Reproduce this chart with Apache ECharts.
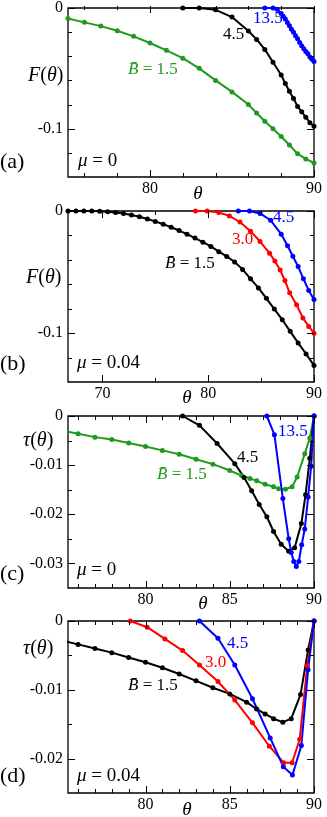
<!DOCTYPE html>
<html><head><meta charset="utf-8">
<script src="https://cdn.jsdelivr.net/npm/echarts@6/dist/echarts.min.js"></script>
<style>html,body{margin:0;padding:0;background:#fff}#c{width:327px;height:817px}</style>
</head><body><div id="c"></div><script>
// ---------- DATA ----------
// Panel (a) mu = 0, F(theta)
const thetaA_B15 = [75,76,77,78,79,80,81,82,83,84,85,86,86.5,87,87.5,88,88.5,89,89.5,90];
const FA_B15 = [-0.0087,-0.0119,-0.0150,-0.0189,-0.0235,-0.0290,-0.0351,-0.0416,-0.0500,-0.0600,-0.0695,-0.0800,-0.0870,-0.0938,-0.1000,-0.1065,-0.1135,-0.1208,-0.1250,-0.1284];
const thetaA_B45 = [82,83,84,85,86,86.5,87,87.5,88,88.25,88.5,88.75,89,89.25,89.5,89.75,90];
const FA_B45 = [0,0,-0.0015,-0.0075,-0.0190,-0.0260,-0.0343,-0.0450,-0.0555,-0.0625,-0.0690,-0.0750,-0.0815,-0.0860,-0.0905,-0.0950,-0.0979];
const thetaA_B135 = [87,87.5,87.75,88,88.125,88.25,88.375,88.5,88.625,88.75,88.875,89,89.125,89.25,89.375,89.5,89.625,89.75,89.875,90];
const FA_B135 = [0,0,-0.0010,-0.0045,-0.0068,-0.0092,-0.0120,-0.0148,-0.0176,-0.0200,-0.0230,-0.0255,-0.0285,-0.0312,-0.0338,-0.0360,-0.0380,-0.0405,-0.0425,-0.0443];
// Panel (b) mu = 0.04, F(theta)
const thetaB_B15 = [66.75,67.5,68.25,69,69.75,70.5,71.25,72,72.75,73.5,74.25,75,75.75,76.5,77.25,78,78.75,79.5,80.25,81,81.75,82.5,83.25,84,84.75,85.5,86.25,87,87.75,88.5,89.25,90];
const FB_B15 = [0,0,0,-0.0001,-0.0003,-0.0006,-0.0012,-0.0021,-0.0033,-0.0047,-0.0065,-0.0085,-0.0108,-0.0133,-0.0160,-0.0190,-0.0222,-0.0255,-0.0290,-0.0333,-0.0372,-0.0418,-0.0478,-0.0555,-0.0630,-0.0715,-0.0803,-0.0890,-0.0985,-0.1080,-0.1170,-0.1265];
const thetaB_B30 = [78.8,79.9,81,82,83,84,84.9,85.8,86.3,86.8,87.25,87.7,88.35,88.95,89.5,90];
const FB_B30 = [0,0,-0.0012,-0.0040,-0.0090,-0.0165,-0.0250,-0.0345,-0.0410,-0.0483,-0.0570,-0.0670,-0.0768,-0.0875,-0.0945,-0.1000];
const thetaB_B45 = [82.85,83.9,84.9,85.9,86.9,87.5,88,88.5,89,89.5,90];
const FB_B45 = [0,0,-0.0020,-0.0076,-0.0190,-0.0285,-0.0370,-0.0455,-0.0555,-0.0650,-0.0725];
// Panel (c) mu = 0, tau(theta)
const thetaC_B15 = [75,76,77,78,79,80,81,82,83,84,85,85.7,86.2,86.6,87.1,87.6,87.9,88.3,88.7,89.0,89.45,89.75,90];
const tauC_B15 = [-0.0029,-0.0036,-0.0043,-0.0048,-0.0055,-0.0062,-0.0070,-0.0078,-0.0088,-0.0098,-0.0111,-0.0121,-0.0127,-0.0132,-0.0139,-0.0144,-0.0148,-0.0149,-0.0144,-0.0124,-0.0077,-0.0045,0];
const thetaC_B45 = [82.2,83.2,84.25,85.3,85.85,86.3,86.75,87.2,87.6,88.05,88.5,88.85,89.25,89.5,89.75,90];
const tauC_B45 = [0,-0.0019,-0.0056,-0.0097,-0.0125,-0.0152,-0.0180,-0.0205,-0.0235,-0.0261,-0.0275,-0.0268,-0.0219,-0.0160,-0.0086,0];
const thetaC_B135 = [87.2,87.65,88.15,88.5,88.65,88.8,88.95,89.1,89.27,89.45,89.65,89.83,90];
const tauC_B135 = [0,-0.0038,-0.0168,-0.0250,-0.0278,-0.0296,-0.0306,-0.0296,-0.0262,-0.0230,-0.0165,-0.0102,0];
// Panel (d) mu = 0.04, tau(theta)
const thetaD_B15 = [75,76,77,78,79,80,81,82,83,84,85,86,86.6,87.1,87.6,88.15,88.65,89.2,89.65,90];
const tauD_B15 = [-0.0028,-0.0034,-0.0040,-0.0046,-0.0053,-0.0060,-0.0068,-0.0077,-0.0087,-0.0097,-0.0106,-0.0118,-0.0128,-0.0135,-0.0142,-0.0147,-0.0142,-0.0107,-0.0042,0];
const thetaD_B30 = [79.1,80.1,81.15,82.2,83.2,84.3,85.3,86.35,87.35,88.2,88.7,89.15,89.6,90];
const tauD_B30 = [0,-0.0009,-0.0026,-0.0043,-0.0064,-0.0088,-0.0115,-0.0148,-0.0182,-0.0206,-0.0206,-0.0172,-0.0065,0];
const thetaD_B45 = [83.2,84.3,85.3,86.35,87.4,88.18,88.72,89.25,89.65,90];
const tauD_B45 = [0,-0.0025,-0.0064,-0.0113,-0.0170,-0.0212,-0.0224,-0.0181,-0.0071,0];

// Tick values
const xMajA = [80,90], xMinA = [76,78,82,84,86,88];
const yMajA = [-0.1,0], yMinA = [-0.12,-0.08,-0.06,-0.04,-0.02];
const xMajB = [70,80,90], xMinB = [75,85];
const yMajB = [-0.1,0], yMinB = [-0.12,-0.08,-0.06,-0.04,-0.02];
const xMajC = [80,85,90], xMinC = [76,77,78,79,81,82,83,84,86,87,88,89];
const yMajC = [-0.03,-0.02,-0.01,0], yMinC = [-0.025,-0.015,-0.005];
const xMajD = [80,85,90], xMinD = [76,77,78,79,81,82,83,84,86,87,88,89];
const yMajD = [-0.02,-0.01,0], yMinD = [-0.015,-0.005];

// ---------- STYLE / LAYOUT ----------
const FONT = 'Liberation Serif';
const GREEN = '#1f9a1f', RED = '#ff0000', BLUE = '#0000ff', BLACK = '#000000';
const zip = (a, b) => a.map((v, i) => [v, b[i]]);

const panels = [
  { grid:{left:68,top:6,width:246,height:171}, xr:[75,90], yr:[-0.14,0],
    xMaj:xMajA, xMin:xMinA, yMaj:yMajA, yMin:yMinA,
    series:[[thetaA_B15,FA_B15,GREEN],[thetaA_B45,FA_B45,BLACK],[thetaA_B135,FA_B135,BLUE]] },
  { grid:{left:68,top:211,width:246,height:171}, xr:[66.75,90], yr:[-0.14,0],
    xMaj:xMajB, xMin:xMinB, yMaj:yMajB, yMin:yMinB,
    series:[[thetaB_B15,FB_B15,BLACK],[thetaB_B30,FB_B30,RED],[thetaB_B45,FB_B45,BLUE]] },
  { grid:{left:68,top:416,width:246,height:172}, xr:[75.4,90], yr:[-0.035,0],
    xMaj:xMajC, xMin:xMinC, yMaj:yMajC, yMin:yMinC,
    series:[[thetaC_B15,tauC_B15,GREEN],[thetaC_B45,tauC_B45,BLACK],[thetaC_B135,tauC_B135,BLUE]] },
  { grid:{left:68,top:621,width:246,height:172}, xr:[75.4,90], yr:[-0.025,0],
    xMaj:xMajD, xMin:xMinD, yMaj:yMajD, yMin:yMinD,
    series:[[thetaD_B15,tauD_B15,BLACK],[thetaD_B30,tauD_B30,RED],[thetaD_B45,tauD_B45,BLUE]] }
];

const grid = [], xAxis = [], yAxis = [], series = [];
const fmt = v => (Math.abs(v) < 1e-12 ? '0' : String(+v.toFixed(4)));
panels.forEach((p, gi) => {
  grid.push(Object.assign({ containLabel:false, show:true, borderColor:'#000', borderWidth:1.3, backgroundColor:'transparent' }, p.grid));
  xAxis.push({
    gridIndex: gi, type: 'value', position: 'bottom', min: p.xr[0], max: p.xr[1],
    axisLine: { show: false, onZero: false }, axisTick: { show: false },
    axisLabel: { show: true, customValues: p.xMaj, formatter: fmt, margin: 4, color: '#000', fontFamily: FONT, fontSize: 16 },
    splitLine: { show: false }
  });
  yAxis.push({
    gridIndex: gi, type: 'value', position: 'left', min: p.yr[0], max: p.yr[1],
    axisLine: { show: false, onZero: false }, axisTick: { show: false },
    axisLabel: { show: true, customValues: p.yMaj, formatter: fmt, margin: 5, color: '#000', fontFamily: FONT, fontSize: 16 },
    splitLine: { show: false }
  });
  p.series.forEach(([xs, ys, col]) => {
    series.push({
      type: 'line', xAxisIndex: gi, yAxisIndex: gi, data: zip(xs, ys),
      symbol: 'circle', symbolSize: 5, showSymbol: true, clip: true,
      lineStyle: { color: col, width: 2 }, itemStyle: { color: col },
      animation: false, silent: true
    });
  });
});

function txt(x, y, text, size, color, align) {
  return {
    type: 'text', x: x, y: y, z: 100, silent: true,
    style: {
      text: text, fill: color, fontFamily: FONT, fontSize: size,
      align: align || 'left', verticalAlign: 'middle',
      textAlign: align || 'left', textVerticalAlign: 'middle',
      rich: { i: { fontStyle: 'italic', fontFamily: FONT, fontSize: size, fill: color } }
    }
  };
}
const BBAR = '{i|B\u0304}';
const texts = [
  // (a)
  txt(28, 76, '{i|F}({i|θ})', 20, BLACK),
  txt(0, 162, '(a)', 22, BLACK),
  txt(78, 161, '{i|μ} = 0', 19, BLACK),
  txt(128, 70, BBAR + ' = 1.5', 17, GREEN),
  txt(223, 35, '4.5', 17, BLACK),
  txt(253, 19, '13.5', 17, BLUE),
  txt(198, 194, '{i|θ}', 19, BLACK, 'center'),
  // (b)
  txt(26, 278, '{i|F}({i|θ})', 20, BLACK),
  txt(0, 364, '(b)', 22, BLACK),
  txt(77, 363, '{i|μ} = 0.04', 19, BLACK),
  txt(165, 264, BBAR + ' = 1.5', 17, BLACK),
  txt(232, 240, '3.0', 17, RED),
  txt(273, 218, '4.5', 17, BLUE),
  txt(187, 398, '{i|θ}', 19, BLACK, 'center'),
  // (c)
  txt(23, 441, '{i|τ}({i|θ})', 20, BLACK),
  txt(0, 574, '(c)', 22, BLACK),
  txt(77, 570, '{i|μ} = 0', 19, BLACK),
  txt(157, 475, BBAR + ' = 1.5', 17, GREEN),
  txt(237, 458, '4.5', 17, BLACK),
  txt(278, 432, '13.5', 17, BLUE),
  txt(203, 604, '{i|θ}', 19, BLACK, 'center'),
  // (d)
  txt(23, 649, '{i|τ}({i|θ})', 20, BLACK),
  txt(0, 776, '(d)', 22, BLACK),
  txt(77, 776, '{i|μ} = 0.04', 19, BLACK),
  txt(128, 686, BBAR + ' = 1.5', 17, BLACK),
  txt(205, 663, '3.0', 17, RED),
  txt(227, 644, '4.5', 17, BLUE),
  txt(187, 810, '{i|θ}', 19, BLACK, 'center')
];

const chart = echarts.init(document.getElementById('c'), null, { renderer: 'canvas' });
chart.setOption({ animation: false, backgroundColor: '#fff', grid, xAxis, yAxis, series });

// inward ticks on all four sides, placed through the axes' own scales
const ticks = [];
const tl = (x1, y1, x2, y2) => ({ type: 'line', z: 50, silent: true,
  shape: { x1, y1, x2, y2 }, style: { stroke: '#000', lineWidth: 1 } });
panels.forEach((p, gi) => {
  const T = p.grid.top, B = p.grid.top + p.grid.height;
  const L = p.grid.left, R = p.grid.left + p.grid.width;
  const addX = (vals, len) => vals.forEach(v => {
    const x = Math.round(chart.convertToPixel({ xAxisIndex: gi }, v)) + 0.5;
    ticks.push(tl(x, B, x, B - len), tl(x, T, x, T + len));
  });
  const addY = (vals, len) => vals.forEach(v => {
    const y = Math.round(chart.convertToPixel({ yAxisIndex: gi }, v)) + 0.5;
    ticks.push(tl(L, y, L + len, y), tl(R, y, R - len, y));
  });
  addX(p.xMaj, 7); addX(p.xMin, 4);
  addY(p.yMaj, 7); addY(p.yMin, 4);
});
chart.setOption({ graphic: texts.concat(ticks) });
</script></body></html>
